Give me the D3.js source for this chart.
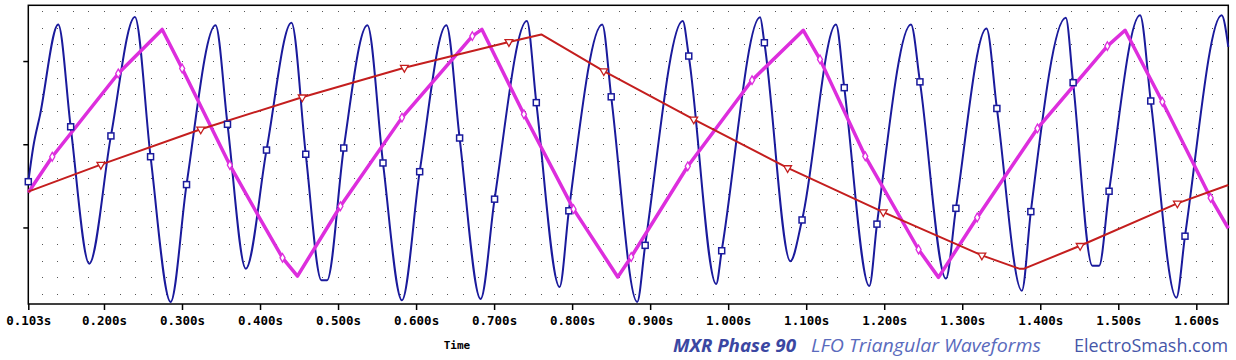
<!DOCTYPE html>
<html><head><meta charset="utf-8">
<script src="https://cdn.jsdelivr.net/npm/d3@7"></script>
<style>body{margin:0;background:#fff}svg{display:block}</style>
</head><body><svg id="c" width="1236" height="360"></svg>
<script>
// ---- data (time in s, arbitrary voltage units) ----
const xTickValues = [0.103,0.2,0.3,0.4,0.5,0.6,0.7,0.8,0.9,1.0,1.1,1.2,1.3,1.4,1.5,1.6];
const xDomain = [0.103, 1.641];
const yDomain = [0.16, 7.34];
const yTickValues = [2, 4, 6];
const xAxisTitle = "Time";

const blueT = [0.1030,0.1094,0.1180,0.1414,0.1573,0.1811,0.2089,0.2396,0.2597,0.2854,0.3058,0.3430,0.3583,0.3818,0.4083,0.4403,0.4586,0.4787,0.4859,0.5073,0.5376,0.5576,0.5819,0.6046,0.6388,0.6558,0.6827,0.7006,0.7420,0.7541,0.7839,0.7958,0.8386,0.8501,0.8834,0.8936,0.9418,0.9495,0.9846,0.9917,1.0409,1.0464,1.0797,1.0947,1.1382,1.1488,1.1809,1.1907,1.2343,1.2458,1.2791,1.2919,1.3311,1.3444,1.3764,1.3879,1.4327,1.4421,1.4668,1.4754,1.4882,1.5279,1.5416,1.5744,1.5855,1.6325,1.6410];
const blueV = [3.10,3.94,4.70,6.88,4.42,1.13,4.20,7.06,3.70,0.21,3.03,6.86,4.48,1.01,3.86,6.92,3.76,0.73,0.73,3.91,6.86,3.55,0.25,3.34,6.86,4.15,0.28,2.68,6.96,5.00,0.57,2.40,6.88,5.14,0.21,1.57,6.96,6.12,0.64,1.44,7.05,6.44,1.19,2.18,6.88,5.36,0.59,2.08,6.88,5.50,0.77,2.46,6.78,4.86,0.48,2.38,7.04,5.48,1.08,1.08,2.87,7.10,5.04,0.31,1.79,7.10,6.34];
const blueMarks = [0,4,6,8,10,12,14,16,19,21,23,25,27,29,31,33,35,37,39,41,43,45,47,49,51,53,55,57,60,62,64];

const magT = [0.103,0.1337,0.2183,0.2746,0.3002,0.3613,0.3997,0.4288,0.448,0.503,0.5819,0.6721,0.6844,0.7382,0.8018,0.8585,0.8757,0.9482,1.0306,1.0963,1.1177,1.1757,1.244,1.2696,1.3192,1.3964,1.486,1.5087,1.5565,1.6184,1.641];
const magV = [2.84,3.70,5.70,6.76,5.82,3.50,2.22,1.27,0.83,2.51,4.64,6.60,6.76,4.72,2.44,0.81,1.29,3.47,5.54,6.74,6.04,3.71,1.47,0.80,2.24,4.38,6.36,6.74,5.02,2.71,1.98];
const magMarks = [1,2,4,5,7,9,10,11,13,14,16,17,18,20,21,22,24,25,26,28,29];

const redT = [0.103,0.196,0.324,0.454,0.585,0.719,0.7605,0.8406,0.9559,1.0762,1.1988,1.3252,1.373,1.3794,1.4511,1.5757,1.641];
const redV = [2.86,3.51,4.36,5.13,5.84,6.46,6.64,5.76,4.60,3.43,2.37,1.33,1.01,1.01,1.56,2.58,3.02];
const redMarks = [1,2,3,4,5,7,8,9,10,11,14,15];

const footTexts = ["MXR Phase 90", "LFO Triangular Waveforms", "ElectroSmash.com"];

// ---- drawing ----
const svg = d3.select("#c");
const L = 28.3, R = 1228.3, T = 5.3, B = 304;
const x = d3.scaleLinear().domain(xDomain).range([L, R]);
const y = d3.scaleLinear().domain(yDomain).range([B, T]);

// grid dots
const gx = d3.range(0.12, 1.63, 0.02);
const gy = d3.range(0.4, 7.3, 0.4);
const dots = svg.append("g").attr("fill", "#555");
gy.forEach(v => gx.forEach(t => {
  dots.append("rect").attr("x", Math.round(x(t))).attr("y", Math.round(y(v))).attr("width", 1).attr("height", 1);
}));

// axes
const xAxis = d3.axisBottom(x).tickValues(xTickValues).tickSize(6).tickSizeOuter(0)
  .tickFormat(d => d3.format(".3f")(d) + "s");
const gX = svg.append("g").attr("transform", `translate(0,${B})`).call(xAxis);
gX.select(".domain").remove();
gX.selectAll("line").attr("stroke", "#000").attr("stroke-width", 1.5);
gX.selectAll("text").attr("fill", "#000").attr("dy", "0").attr("y", 21)
  .style("font-family", "'DejaVu Sans Mono', monospace").style("font-weight", "bold").style("font-size", "12.5px");

const yAxis = d3.axisLeft(y).tickValues(yTickValues).tickSize(5).tickFormat("");
const gY = svg.append("g").attr("transform", `translate(${L},0)`).call(yAxis);
gY.select(".domain").remove();
gY.selectAll("line").attr("stroke", "#000").attr("stroke-width", 1.5);

svg.append("rect").attr("x", L).attr("y", T).attr("width", R - L).attr("height", B - T)
  .attr("fill", "none").attr("stroke", "#000").attr("stroke-width", 1.5);

svg.append("text").attr("x", 457).attr("y", 349).attr("text-anchor", "middle")
  .style("font-family", "'DejaVu Sans Mono', monospace").style("font-weight", "bold").style("font-size", "11px")
  .text(xAxisTitle);

// series
function series(ts, vs, color, width, curve) {
  const pts = ts.map((t, i) => [t, vs[i]]);
  svg.append("path").datum(pts)
    .attr("d", d3.line().x(d => x(d[0])).y(d => y(d[1])).curve(curve))
    .attr("fill", "none").attr("stroke", color).attr("stroke-width", width)
    .attr("stroke-linejoin", "round");
  return pts;
}
const bluePts = series(blueT, blueV, "#1a1a9c", 2, d3.curveMonotoneX);
const magPts = series(magT, magV, "#dd2edd", 3.5, d3.curveLinear);
const redPts = series(redT, redV, "#c41e1e", 2, d3.curveLinear);

// markers
svg.append("g").selectAll("rect").data(blueMarks.map(i => bluePts[i])).join("rect")
  .attr("x", d => x(d[0]) - 3).attr("y", d => y(d[1]) - 3).attr("width", 6).attr("height", 6)
  .attr("fill", "#fff").attr("stroke", "#1a1a9c").attr("stroke-width", 1.5);
svg.append("g").selectAll("path").data(magMarks.map(i => magPts[i])).join("path")
  .attr("d", d3.symbol(d3.symbolDiamond, 22)())
  .attr("transform", d => `translate(${x(d[0])},${y(d[1])})`)
  .attr("fill", "#fff").attr("stroke", "#dd2edd").attr("stroke-width", 1.3);
svg.append("g").selectAll("path").data(redMarks.map(i => redPts[i])).join("path")
  .attr("d", d3.symbol(d3.symbolTriangle, 26)())
  .attr("transform", d => `translate(${x(d[0])},${y(d[1])}) rotate(180)`)
  .attr("fill", "#fff").attr("stroke", "#c41e1e").attr("stroke-width", 1.3);

// footer
const foot = svg.append("text").attr("x", 673).attr("y", 352)
  .style("font-family", "'Open Sans', sans-serif").style("font-size", "18.5px");
foot.append("tspan").attr("fill", "#3b47a2").style("font-weight", "bold").style("font-style", "italic")
  .attr("textLength", 123).attr("lengthAdjust", "spacingAndGlyphs").text(footTexts[0]);
foot.append("tspan").attr("x", 811).attr("fill", "#5a6bbd").style("font-style", "italic")
  .attr("textLength", 230).attr("lengthAdjust", "spacingAndGlyphs").text(footTexts[1]);
foot.append("tspan").attr("x", 1074).attr("fill", "#4656a8")
  .attr("textLength", 154).attr("lengthAdjust", "spacingAndGlyphs").text(footTexts[2]);
</script>
</body></html>
